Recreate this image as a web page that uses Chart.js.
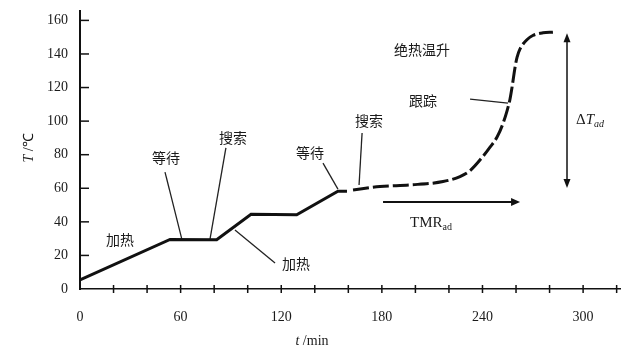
<!DOCTYPE html>
<html>
<head>
<meta charset="utf-8">
<script src="https://cdn.jsdelivr.net/npm/chart.js@4/dist/chart.umd.min.js"></script>
<style>
  html, body { margin: 0; padding: 0; background: #fff; }
  #wrap { width: 622px; height: 358px; }
</style>
</head>
<body>
<div id="wrap"><canvas id="c"></canvas></div>
<script>
// courbe : chauffe / attente / recherche (traits pleins)
var hwsTime = [0, 53.7, 81.5, 102, 129.2, 153.8, 159.2];
var hwsTemp = [5.4, 29.5, 29.3, 44.5, 44.2, 58.3, 58.3];

// suivi adiabatique (tirets)
var trackTime = [162.8, 178.9, 196.8, 216.5, 226.6, 232.6, 240.3, 244.5, 248.7, 252.2, 254.6, 256.4, 257.6, 259.4, 260.6, 262.4, 266.5, 270, 276.1, 282];
var trackTemp = [59, 61, 62, 64, 67, 70.5, 79, 84.5, 90.5, 98.5, 106, 113, 120, 132, 138, 143, 148.5, 151, 152.6, 153];

// traits de rappel : [t1, T1, t2, T2]
var leaders = [
  [50.7, 69.6, 60.8, 29.4],
  [87, 84, 77.5, 29.6],
  [92.4, 35.1, 116.3, 15.5],
  [144.9, 75, 153.8, 59.5],
  [168.2, 92.9, 166.4, 61.9],
  [232.6, 113.1, 255.2, 110.7]
];

// etiquettes
var labelText = ["加热", "等待", "搜索", "加热", "等待", "搜索", "绝热温升", "跟踪"];
var labelTime = [23.9, 51.3, 91.2, 128.8, 137.2, 172.3, 203.9, 204.5];
var labelTemp = [29.2, 78, 89.9, 14.9, 81, 100, 142.3, 112];

// fleches TMR et deltaT
var tmrArrow = [180.7, 51.8, 262.4, 51.8];
var dtArrow = [290.4, 152.4, 290.4, 60.1];

var xTicks = [0, 60, 120, 180, 240, 300];

var serif = '"Liberation Serif", "Times New Roman", serif';
var cjk = '"Noto Sans CJK SC", "Noto Sans CJK JP", sans-serif';

function pts(xs, ys) {
  var out = [];
  for (var i = 0; i < xs.length; i++) out.push({ x: xs[i], y: ys[i] });
  return out;
}

var datasets = [
  {
    data: pts(hwsTime, hwsTemp),
    borderColor: '#111',
    borderWidth: 3,
    pointRadius: 0,
    tension: 0
  },
  {
    data: pts(trackTime, trackTemp),
    borderColor: '#111',
    borderWidth: 3,
    borderDash: [16, 4],
    pointRadius: 0,
    cubicInterpolationMode: 'monotone'
  }
];
leaders.forEach(function (l) {
  datasets.push({
    data: [{ x: l[0], y: l[1] }, { x: l[2], y: l[3] }],
    borderColor: '#222',
    borderWidth: 1.3,
    pointRadius: 0
  });
});

function arrowHead(ctx, x, y, ang, len, wid) {
  ctx.save();
  ctx.translate(x, y);
  ctx.rotate(ang);
  ctx.beginPath();
  ctx.moveTo(0, 0);
  ctx.lineTo(-len, -wid);
  ctx.lineTo(-len, wid);
  ctx.closePath();
  ctx.fill();
  ctx.restore();
}

var decor = {
  id: 'decor',
  afterDraw: function (chart) {
    var ctx = chart.ctx;
    var xs = chart.scales.x, ys = chart.scales.y;
    var area = chart.chartArea;
    ctx.save();
    ctx.strokeStyle = '#111';
    ctx.fillStyle = '#111';

    // axe Y prolonge un peu au-dessus
    ctx.lineWidth = 2;
    ctx.beginPath();
    ctx.moveTo(area.left, area.top);
    ctx.lineTo(area.left, area.top - 2);
    ctx.stroke();

    // graduations Y vers l'interieur
    ctx.lineWidth = 1.5;
    ys.ticks.forEach(function (t) {
      var py = ys.getPixelForValue(t.value);
      if (t.value === 0) return;
      ctx.beginPath();
      ctx.moveTo(area.left, py);
      ctx.lineTo(area.left + 9, py);
      ctx.stroke();
    });
    // graduations X qui traversent l'axe
    xs.ticks.forEach(function (t) {
      if (t.value === 0) return;
      var px = xs.getPixelForValue(t.value);
      ctx.beginPath();
      ctx.moveTo(px, area.bottom - 4);
      ctx.lineTo(px, area.bottom + 4);
      ctx.stroke();
    });

    // fleche TMR
    var a1 = xs.getPixelForValue(tmrArrow[0]), b1 = ys.getPixelForValue(tmrArrow[1]);
    var a2 = xs.getPixelForValue(tmrArrow[2]), b2 = ys.getPixelForValue(tmrArrow[3]);
    ctx.lineWidth = 2;
    ctx.beginPath();
    ctx.moveTo(a1, b1);
    ctx.lineTo(a2 - 6, b2);
    ctx.stroke();
    arrowHead(ctx, a2, b2, 0, 9, 4);

    // fleche deltaT
    var c1 = xs.getPixelForValue(dtArrow[0]), d1 = ys.getPixelForValue(dtArrow[1]);
    var d2 = ys.getPixelForValue(dtArrow[3]);
    ctx.lineWidth = 1.5;
    ctx.beginPath();
    ctx.moveTo(c1, d1 + 6);
    ctx.lineTo(c1, d2 - 6);
    ctx.stroke();
    arrowHead(ctx, c1, d1, -Math.PI / 2, 9, 3.5);
    arrowHead(ctx, c1, d2, Math.PI / 2, 9, 3.5);

    // etiquettes chinoises
    ctx.fillStyle = '#1a1a1a';
    ctx.textAlign = 'center';
    ctx.textBaseline = 'middle';
    ctx.font = '14px ' + cjk;
    for (var i = 0; i < labelText.length; i++) {
      ctx.fillText(labelText[i], xs.getPixelForValue(labelTime[i]), ys.getPixelForValue(labelTemp[i]));
    }

    // TMRad
    ctx.textAlign = 'left';
    ctx.textBaseline = 'alphabetic';
    var tx = xs.getPixelForValue(196.8), ty = ys.getPixelForValue(37);
    ctx.font = '15px ' + serif;
    ctx.fillText('TMR', tx, ty);
    var w = ctx.measureText('TMR').width;
    ctx.font = '10px ' + serif;
    ctx.fillText('ad', tx + w, ty + 3);

    // deltaT ad
    var gx = xs.getPixelForValue(295.8), gy = ys.getPixelForValue(98);
    ctx.font = '15px ' + serif;
    ctx.fillText('Δ', gx, gy);
    var w1 = ctx.measureText('Δ').width;
    ctx.font = 'italic 15px ' + serif;
    ctx.fillText('T', gx + w1, gy);
    var w2 = ctx.measureText('T').width;
    ctx.font = 'italic 10px ' + serif;
    ctx.fillText('ad', gx + w1 + w2, gy + 3);

    // titres des axes
    ctx.font = 'italic 14px ' + serif;
    var s1 = 't', s2 = ' /min';
    var wt = ctx.measureText(s1).width;
    ctx.font = '14px ' + serif;
    var wm = ctx.measureText(s2).width;
    var x0 = 312 - (wt + wm) / 2;
    ctx.font = 'italic 14px ' + serif;
    ctx.fillText(s1, x0, 345);
    ctx.font = '14px ' + serif;
    ctx.fillText(s2, x0 + wt, 345);

    ctx.translate(33, 148);
    ctx.rotate(-Math.PI / 2);
    ctx.font = 'italic 14px ' + serif;
    var wT = ctx.measureText('T').width;
    ctx.font = '14px ' + serif;
    var wC = ctx.measureText(' /℃').width;
    var y0 = -(wT + wC) / 2;
    ctx.font = 'italic 14px ' + serif;
    ctx.fillText('T', y0, 0);
    ctx.font = '14px ' + serif;
    ctx.fillText(' /℃', y0 + wT, 0);

    ctx.restore();
  }
};

new Chart(document.getElementById('c'), {
  type: 'scatter',
  data: { datasets: datasets },
  options: {
    responsive: true,
    maintainAspectRatio: false,
    animation: false,
    showLine: true,
    layout: { padding: { top: 12, right: 2, left: 0, bottom: 0 } },
    plugins: {
      legend: { display: false },
      tooltip: { enabled: false }
    },
    elements: { line: { fill: false } },
    scales: {
      x: {
        type: 'linear',
        min: 0,
        max: 322,
        grid: { display: false, drawTicks: false },
        border: { display: true, color: '#111', width: 1.6 },
        ticks: {
          stepSize: 20,
          includeBounds: false,
          autoSkip: false,
          maxRotation: 0,
          padding: 20,
          color: '#1a1a1a',
          font: { family: serif, size: 14 },
          callback: function (v) { return xTicks.indexOf(v) >= 0 ? String(v) : ''; }
        },
        afterFit: function (s) {
          s.height = 69;
          s.paddingLeft = 0;
          s.paddingRight = 0;
        }
      },
      y: {
        min: 0,
        max: 165,
        grid: { display: false, drawTicks: false },
        border: { display: true, color: '#111', width: 2 },
        ticks: {
          stepSize: 20,
          includeBounds: false,
          padding: 12,
          color: '#1a1a1a',
          font: { family: serif, size: 14 }
        },
        afterFit: function (s) {
          s.width = 80;
          s.paddingTop = 0;
          s.paddingBottom = 0;
        }
      }
    }
  },
  plugins: [decor]
});
</script>
</body>
</html>
